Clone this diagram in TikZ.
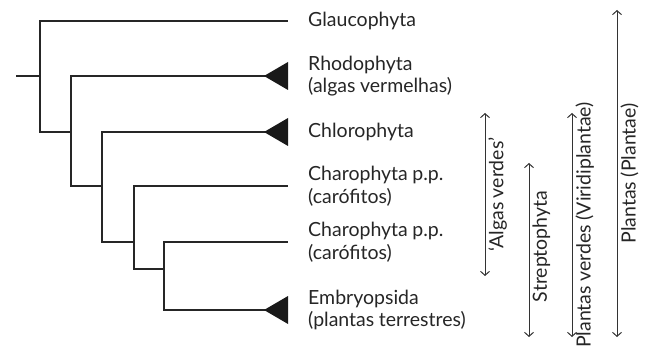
\documentclass[tikz,border=0pt]{standalone}
\usepackage{fontspec}
\setmainfont{Lato}[WordSpace=0.9]
\usetikzlibrary{arrows.meta}

\begin{document}
\begin{tikzpicture}[
    x=1pt, y=-1pt,
    font=\fontsize{19.5}{22.5}\selectfont,
    branch/.style={draw=black!85, line width=1.2pt},
    clade/.style={fill=black!90},
    taxon/.style={anchor=west, align=left, inner sep=0pt, text=black!85},
    span/.style={{Straight Barb[length=4pt,width=9pt]}-{Straight Barb[length=4pt,width=9pt]},
                 draw=black!80, line width=1pt},
    spanlabel/.style={midway, rotate=90, anchor=north, inner sep=3pt, text=black!85}
]
\useasboundingbox (0,0) rectangle (646,350);

% tree
\coordinate (root) at (16,76);
\coordinate (n1) at (40,76);
\coordinate (n2) at (71,132);
\coordinate (n3) at (102,186);
\coordinate (n4) at (134,242);
\coordinate (n5) at (164,269);

\coordinate (tglau) at (288,21);
\coordinate (trhodo) at (288,76);
\coordinate (tchloro) at (288,132);
\coordinate (tcharoA) at (288,186);
\coordinate (tcharoB) at (288,242);
\coordinate (tembryo) at (288,310);

\node[taxon] (glau) at (308,21) {Glaucophyta};
\node[taxon] (rhodo) at (308,76) {Rhodophyta\\(algas vermelhas)};
\node[taxon] (chloro) at (308,132) {Chlorophyta};
\node[taxon] (charoA) at (308,186) {Charophyta p.p.\\(carófitos)};
\node[taxon] (charoB) at (308,242) {Charophyta p.p.\\(carófitos)};
\node[taxon] (embryo) at (308,310) {Embryopsida\\(plantas terrestres)};

\draw[branch] (root) -- (n1);
\draw[branch] (n1) |- (tglau);
\draw[branch] (n1) |- (n2);
\draw[branch] (n2) |- (trhodo);
\draw[branch] (n2) |- (n3);
\draw[branch] (n3) |- (tchloro);
\draw[branch] (n3) |- (n4);
\draw[branch] (n4) |- (tcharoA);
\draw[branch] (n4) |- (n5);
\draw[branch] (n5) |- (tcharoB);
\draw[branch] (n5) |- (tembryo);

% collapsed clades
\fill[clade] (trhodo) -- ++(0,-14) -- ++(-24,14) -- ++(24,14) -- cycle;
\fill[clade] (tchloro) -- ++(0,-14) -- ++(-24,14) -- ++(24,14) -- cycle;
\fill[clade] (tembryo) -- ++(0,-14) -- ++(-24,14) -- ++(24,14) -- cycle;

% groups
\coordinate (algasT) at (485,113);
\coordinate (algasB) at (485,276);
\coordinate (streptoT) at (529,163);
\coordinate (streptoB) at (529,337);
\coordinate (viridiT) at (572,113);
\coordinate (viridiB) at (572,337);
\coordinate (plantaeT) at (617,10);
\coordinate (plantaeB) at (617,337);

\draw[span] (algasT) -- node[spanlabel] {‘Algas verdes’} (algasB);
\draw[span] (streptoT) -- node[spanlabel, pos=0.48] {Streptophyta} (streptoB);
\draw[span] (viridiT) -- node[spanlabel] {Plantas verdes (Viridiplantae)} (viridiB);
\draw[span] (plantaeT) -- node[spanlabel] {Plantas (Plantae)} (plantaeB);

\end{tikzpicture}
\end{document}
